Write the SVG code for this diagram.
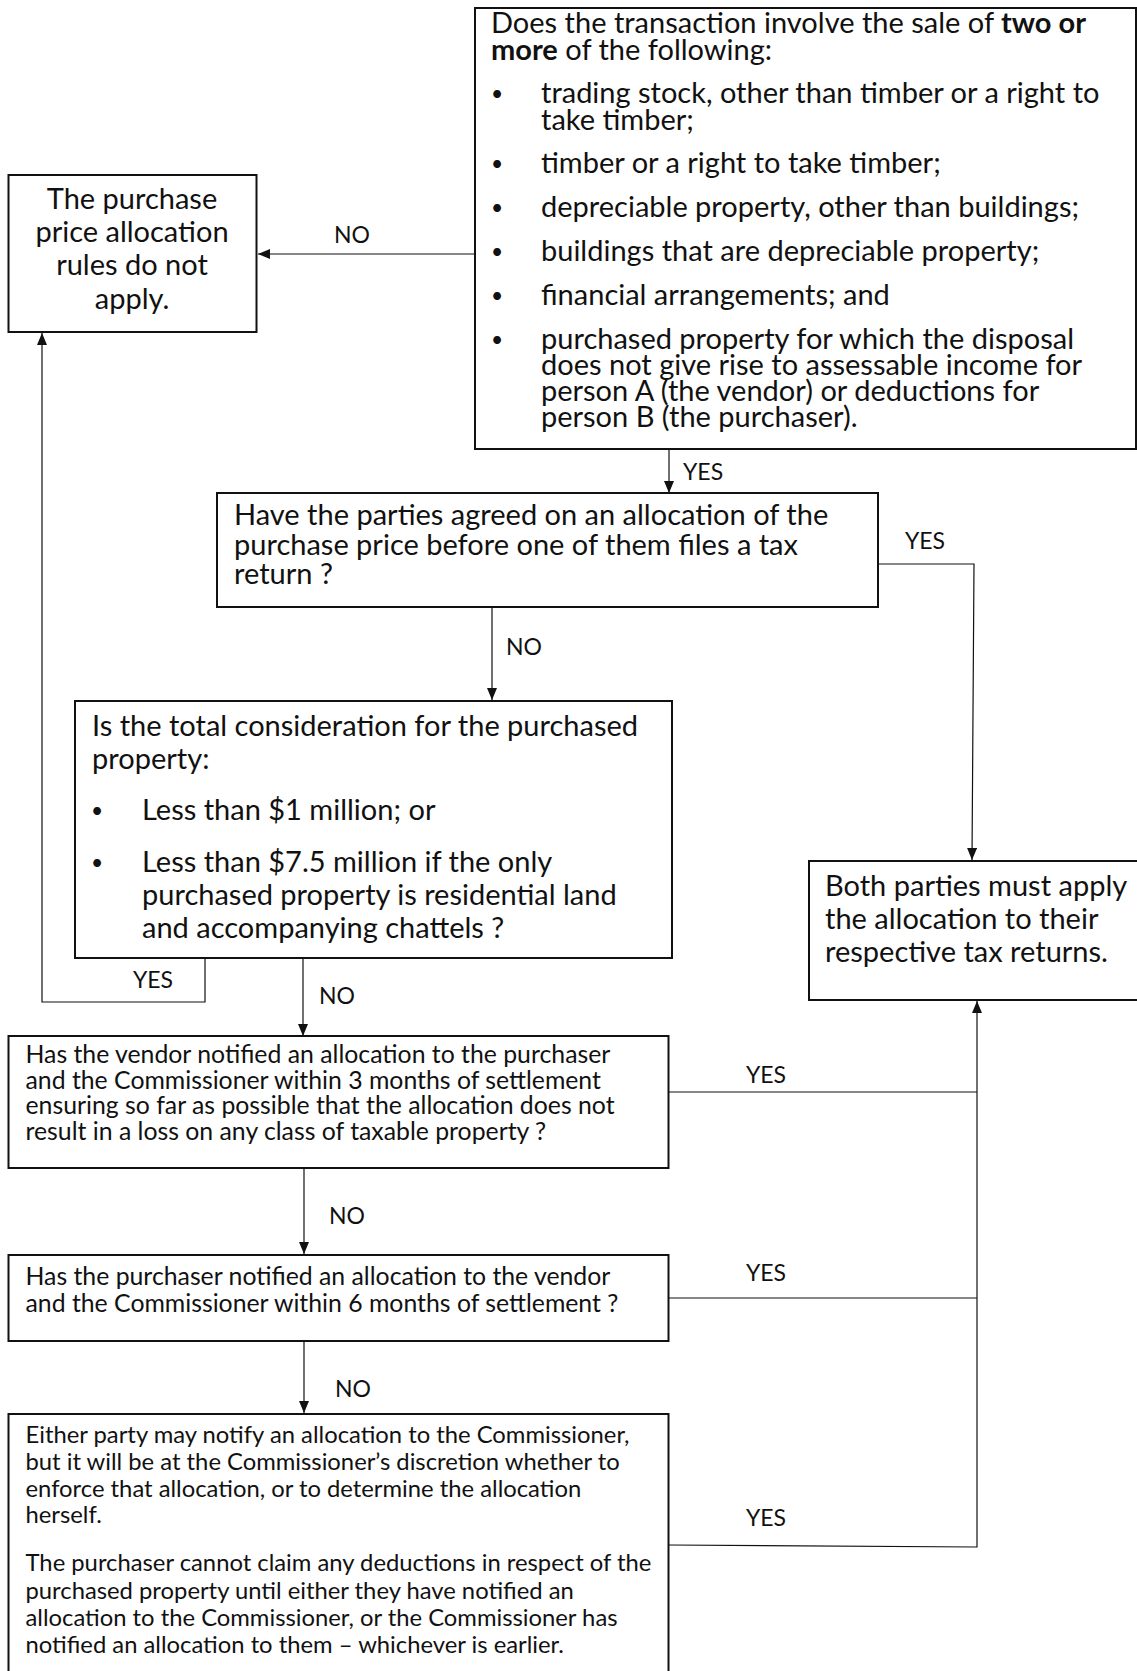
<svg xmlns="http://www.w3.org/2000/svg" width="1137" height="1671" viewBox="0 0 1137 1671">
<style>
.box{fill:#fff;stroke:#111;stroke-width:2}
.t{font-family:Lato,"Liberation Sans",sans-serif;fill:#111}
.s30{font-size:29px}
.s26{font-size:24.8px}
.s25{font-size:23.8px}
.bu{font-family:Lato,"Liberation Sans",sans-serif;font-size:21px;fill:#111;text-anchor:middle}
.lbl{font-family:Lato,"Liberation Sans",sans-serif;font-size:23px;fill:#111}
.c{fill:none;stroke:#111;stroke-width:1.2}
</style>
<defs>
<marker id="ah" viewBox="0 0 12 10" refX="12" refY="5" markerWidth="12" markerHeight="10" markerUnits="userSpaceOnUse" orient="auto">
<path d="M0,0 L12,5 L0,10 z" fill="#111"/>
</marker>
</defs>
<rect width="1137" height="1671" fill="#fff"/>

<g id="connectors">
<path class="c" d="M475,254 H258" marker-end="url(#ah)"/>
<path class="c" d="M669,449 V493" marker-end="url(#ah)"/>
<path class="c" d="M878,564 H974 L972,860" marker-end="url(#ah)"/>
<path class="c" d="M492,607 V700" marker-end="url(#ah)"/>
<path class="c" d="M205,959 V1002 H42 V333" marker-end="url(#ah)"/>
<path class="c" d="M303,959 V1036" marker-end="url(#ah)"/>
<path class="c" d="M669,1092 H977"/>
<path class="c" d="M304,1168 V1254" marker-end="url(#ah)"/>
<path class="c" d="M669,1298 H977"/>
<path class="c" d="M304,1341 V1413" marker-end="url(#ah)"/>
<path class="c" d="M669,1545 L977,1547 V1001" marker-end="url(#ah)"/>
<text class="lbl" x="352" y="243" text-anchor="middle">NO</text>
<text class="lbl" x="683" y="480">YES</text>
<text class="lbl" x="925" y="549" text-anchor="middle">YES</text>
<text class="lbl" x="506" y="655">NO</text>
<text class="lbl" x="153" y="988" text-anchor="middle">YES</text>
<text class="lbl" x="319" y="1004">NO</text>
<text class="lbl" x="766" y="1083" text-anchor="middle">YES</text>
<text class="lbl" x="329" y="1224">NO</text>
<text class="lbl" x="766" y="1281" text-anchor="middle">YES</text>
<text class="lbl" x="335" y="1397">NO</text>
<text class="lbl" x="766" y="1526" text-anchor="middle">YES</text>
</g>

<g id="q1">
<rect class="box" x="475" y="8" width="661" height="441"/>
<text class="t s30" x="491" y="33">Does the transaction involve the sale of <tspan font-weight="bold">two or</tspan></text>
<text class="t s30" x="491" y="60"><tspan font-weight="bold">more</tspan> of the following:</text>
<text class="bu" x="497" y="101">•</text>
<text class="t s30" x="541" y="103">trading stock, other than timber or a right to</text>
<text class="t s30" x="541" y="130">take timber;</text>
<text class="bu" x="497" y="171">•</text>
<text class="t s30" x="541" y="173">timber or a right to take timber;</text>
<text class="bu" x="497" y="215">•</text>
<text class="t s30" x="541" y="217">depreciable property, other than buildings;</text>
<text class="bu" x="497" y="259">•</text>
<text class="t s30" x="541" y="261">buildings that are depreciable property;</text>
<text class="bu" x="497" y="303">•</text>
<text class="t s30" x="541" y="305">financial arrangements; and</text>
<text class="bu" x="497" y="347">•</text>
<text class="t s30" x="541" y="349">purchased property for which the disposal</text>
<text class="t s30" x="541" y="375">does not give rise to assessable income for</text>
<text class="t s30" x="541" y="401">person A (the vendor) or deductions for</text>
<text class="t s30" x="541" y="427">person B (the purchaser).</text>
</g>

<g id="na">
<rect class="box" x="8.5" y="175" width="248" height="157"/>
<text class="t s30" x="132" y="209" text-anchor="middle">The purchase</text>
<text class="t s30" x="132" y="242" text-anchor="middle">price allocation</text>
<text class="t s30" x="132" y="275" text-anchor="middle">rules do not</text>
<text class="t s30" x="132" y="309" text-anchor="middle">apply.</text>
</g>

<g id="q2">
<rect class="box" x="217" y="493" width="661" height="114"/>
<text class="t s30" x="234" y="525">Have the parties agreed on an allocation of the</text>
<text class="t s30" x="234" y="555">purchase price before one of them files a tax</text>
<text class="t s30" x="234" y="584">return ?</text>
</g>

<g id="q3">
<rect class="box" x="75" y="701" width="597" height="257"/>
<text class="t s30" x="92" y="736">Is the total consideration for the purchased</text>
<text class="t s30" x="92" y="769">property:</text>
<text class="bu" x="97" y="818">•</text>
<text class="t s30" x="142" y="820">Less than $1 million; or</text>
<text class="bu" x="97" y="870">•</text>
<text class="t s30" x="142" y="872">Less than $7.5 million if the only</text>
<text class="t s30" x="142" y="905">purchased property is residential land</text>
<text class="t s30" x="142" y="938">and accompanying chattels ?</text>
</g>

<g id="both">
<rect class="box" x="809" y="861" width="330" height="139"/>
<text class="t s30" x="825" y="896">Both parties must apply</text>
<text class="t s30" x="825" y="929">the allocation to their</text>
<text class="t s30" x="825" y="962">respective tax returns.</text>
</g>

<g id="q4">
<rect class="box" x="8.5" y="1036" width="660" height="132"/>
<text class="t s26" x="25.5" y="1063">Has the vendor notified an allocation to the purchaser</text>
<text class="t s26" x="25.5" y="1089">and the Commissioner within 3 months of settlement</text>
<text class="t s26" x="25.5" y="1114">ensuring so far as possible that the allocation does not</text>
<text class="t s26" x="25.5" y="1140">result in a loss on any class of taxable property ?</text>
</g>

<g id="q5">
<rect class="box" x="8.5" y="1255" width="660" height="86"/>
<text class="t s26" x="25.5" y="1285">Has the purchaser notified an allocation to the vendor</text>
<text class="t s26" x="25.5" y="1312">and the Commissioner within 6 months of settlement ?</text>
</g>

<g id="q6">
<rect class="box" x="8.5" y="1414" width="660" height="270"/>
<text class="t s25" x="25.5" y="1443">Either party may notify an allocation to the Commissioner,</text>
<text class="t s25" x="25.5" y="1470">but it will be at the Commissioner’s discretion whether to</text>
<text class="t s25" x="25.5" y="1497">enforce that allocation, or to determine the allocation</text>
<text class="t s25" x="25.5" y="1523">herself.</text>
<text class="t s25" x="25.5" y="1571">The purchaser cannot claim any deductions in respect of the</text>
<text class="t s25" x="25.5" y="1599">purchased property until either they have notified an</text>
<text class="t s25" x="25.5" y="1626">allocation to the Commissioner, or the Commissioner has</text>
<text class="t s25" x="25.5" y="1653">notified an allocation to them – whichever is earlier.</text>
</g>
</svg>
